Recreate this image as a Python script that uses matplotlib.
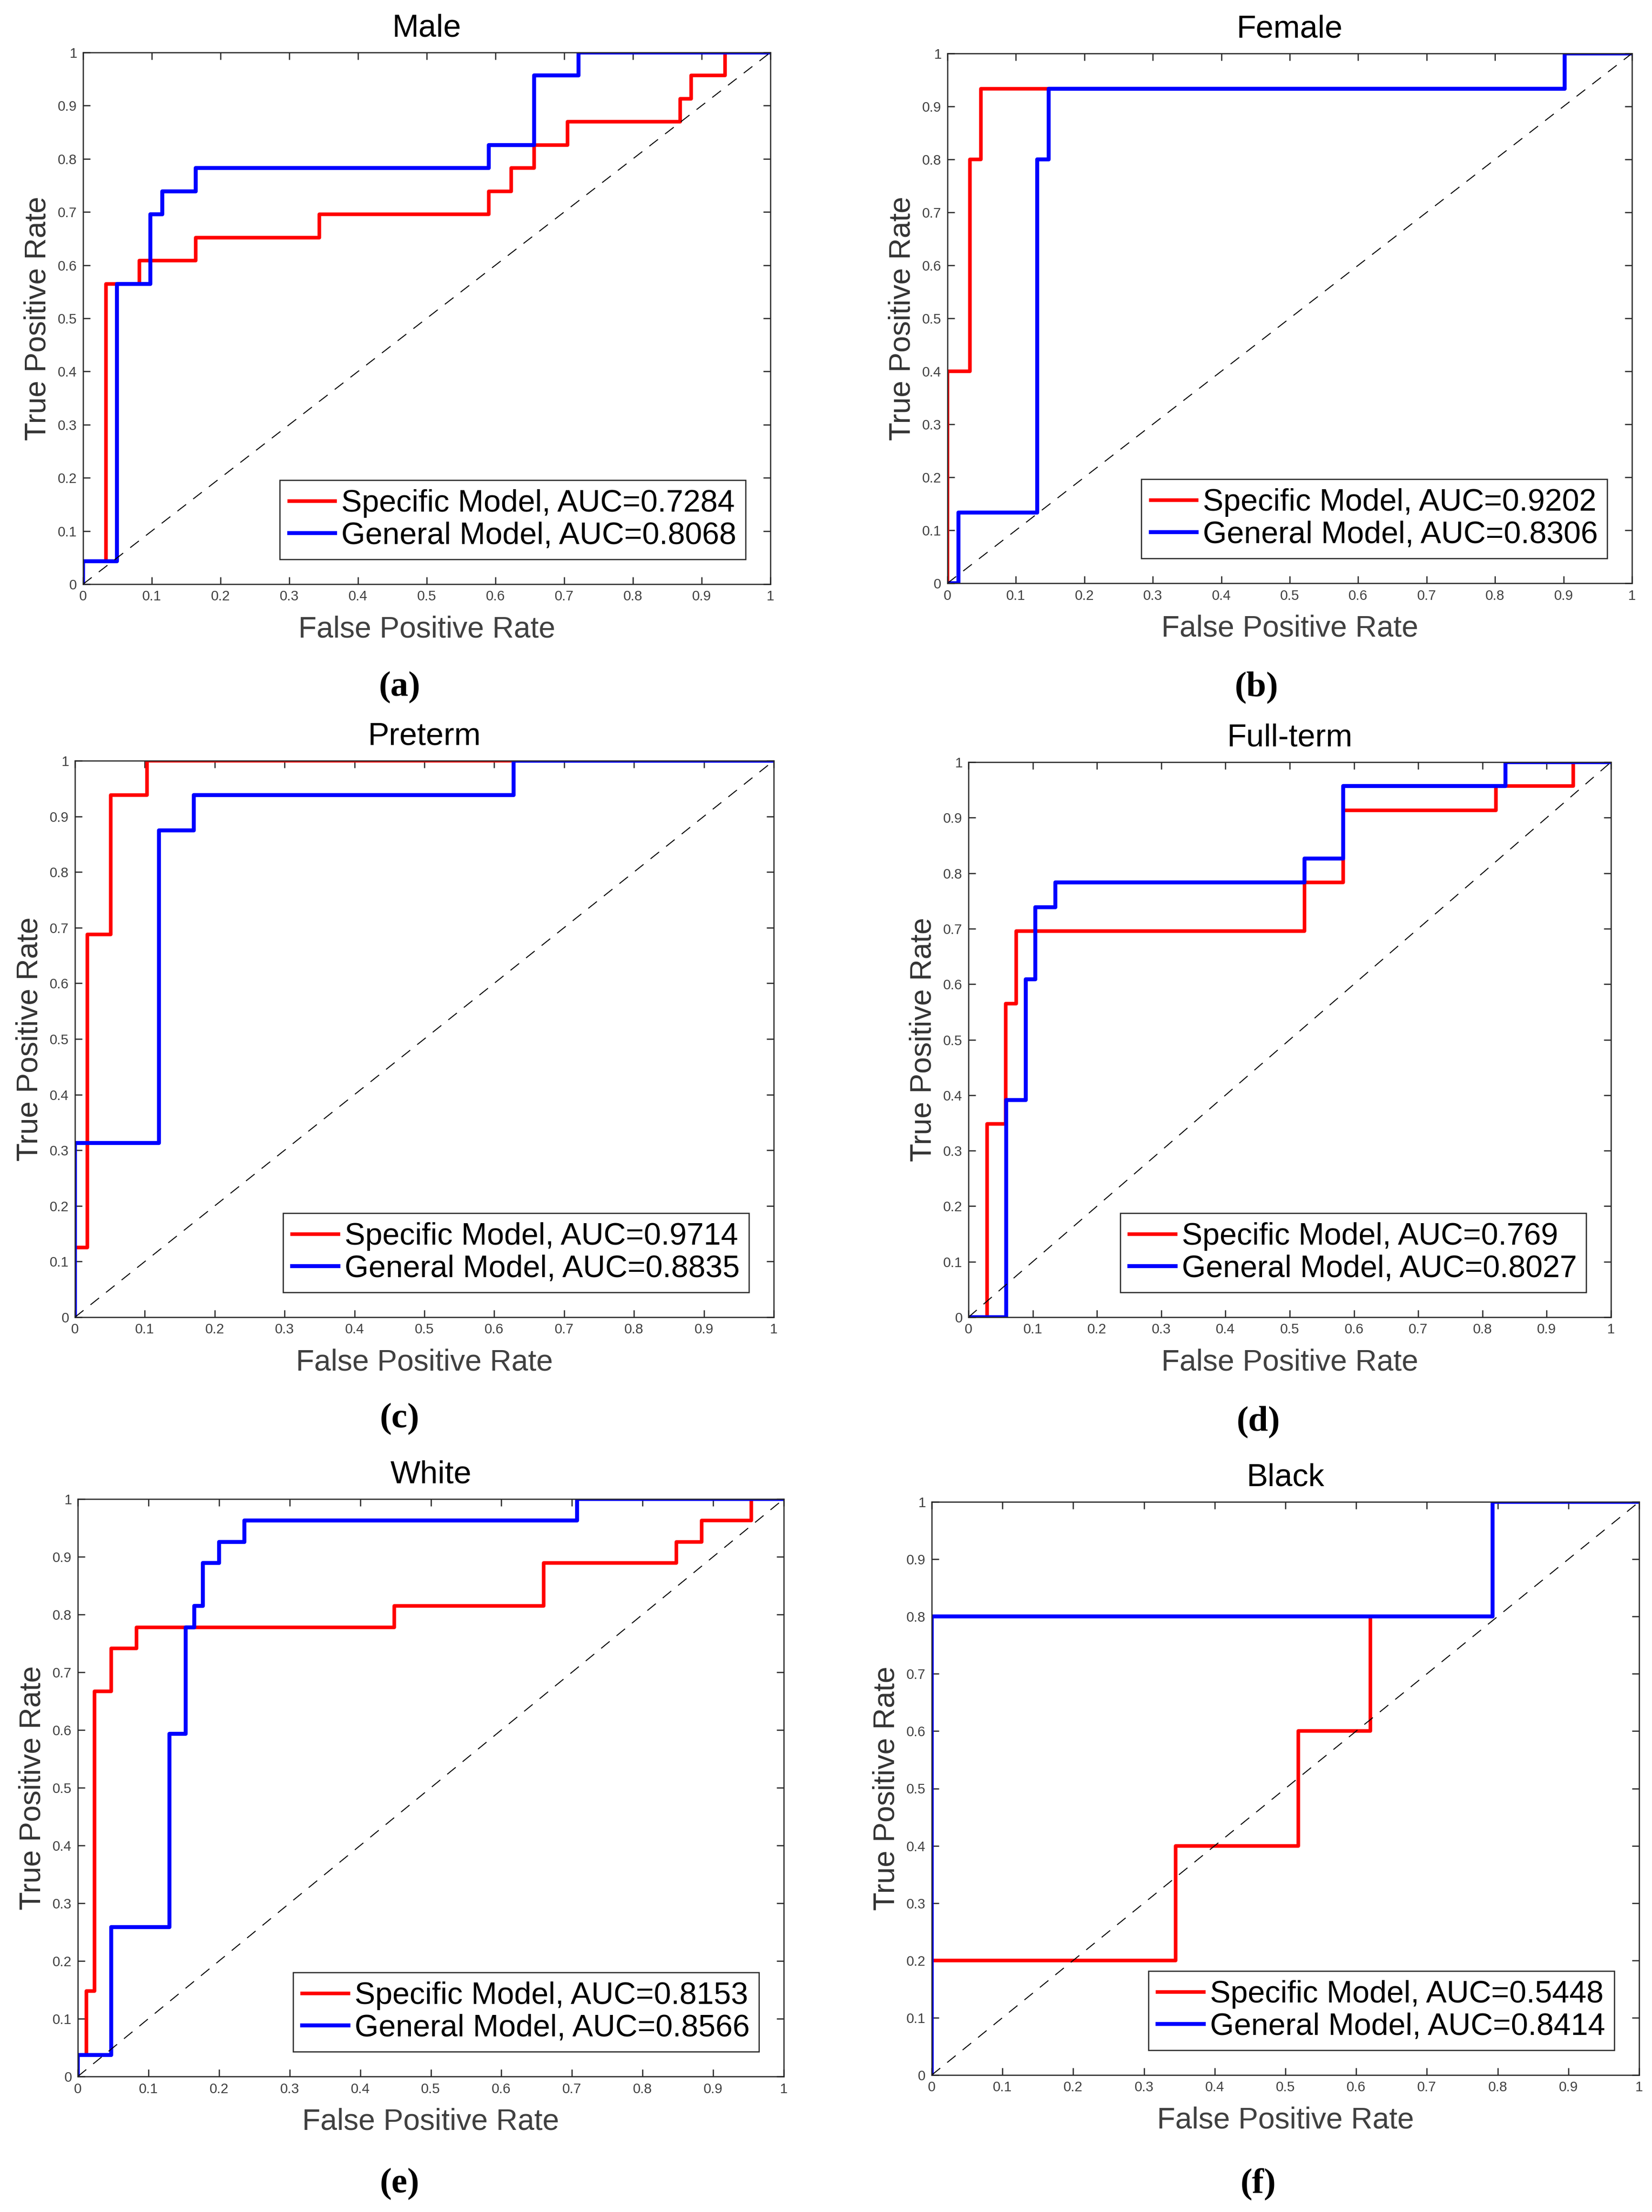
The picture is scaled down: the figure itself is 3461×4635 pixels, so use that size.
import numpy as np
import matplotlib
matplotlib.use("Agg")
from matplotlib import pyplot as plt

plt.rcParams['font.family'] = ['Liberation Sans', 'DejaVu Sans']

# ROC curves: fpr where tpr jumps, tpr after the jump (steps-post)
male_spec_fpr = [0, 0, 0.033, 0.082, 0.164, 0.344, 0.590, 0.623, 0.656, 0.705, 0.869, 0.885, 0.934, 1]
male_spec_tpr = [0, 0.043, 0.565, 0.609, 0.652, 0.696, 0.739, 0.783, 0.826, 0.870, 0.913, 0.957, 1, 1]
male_gen_fpr = [0, 0, 0.049, 0.098, 0.115, 0.164, 0.590, 0.656, 0.721, 1]
male_gen_tpr = [0, 0.043, 0.565, 0.696, 0.739, 0.783, 0.826, 0.957, 1, 1]

female_spec_fpr = [0, 0, 0.033, 0.049, 0.902, 1]
female_spec_tpr = [0, 0.4, 0.8, 0.933, 1, 1]
female_gen_fpr = [0, 0.016, 0.131, 0.148, 0.902, 1]
female_gen_tpr = [0, 0.133, 0.8, 0.933, 1, 1]

preterm_spec_fpr = [0, 0, 0.018, 0.051, 0.103, 1]
preterm_spec_tpr = [0, 0.125, 0.688, 0.938, 1, 1]
preterm_gen_fpr = [0, 0, 0.120, 0.170, 0.628, 1]
preterm_gen_tpr = [0, 0.313, 0.875, 0.938, 1, 1]

fullterm_spec_fpr = [0, 0.029, 0.058, 0.074, 0.523, 0.583, 0.821, 0.941, 1]
fullterm_spec_tpr = [0, 0.348, 0.565, 0.696, 0.783, 0.913, 0.957, 1, 1]
fullterm_gen_fpr = [0, 0.059, 0.089, 0.104, 0.135, 0.523, 0.583, 0.836, 1]
fullterm_gen_tpr = [0, 0.391, 0.609, 0.739, 0.783, 0.826, 0.957, 1, 1]

white_spec_fpr = [0, 0, 0.0125, 0.024, 0.047, 0.083, 0.448, 0.660, 0.848, 0.884, 0.954, 1]
white_spec_tpr = [0, 0.037, 0.148, 0.667, 0.741, 0.778, 0.815, 0.889, 0.926, 0.963, 1, 1]
white_gen_fpr = [0, 0, 0.047, 0.130, 0.153, 0.165, 0.177, 0.200, 0.236, 0.707, 1]
white_gen_tpr = [0, 0.037, 0.259, 0.593, 0.778, 0.815, 0.889, 0.926, 0.963, 1, 1]

black_spec_fpr = [0, 0, 0.345, 0.518, 0.620, 0.793, 1]
black_spec_tpr = [0, 0.2, 0.4, 0.6, 0.8, 1, 1]
black_gen_fpr = [0, 0, 0.793, 1]
black_gen_tpr = [0, 0.8, 1, 1]

titles = ["Male", "Female", "Preterm", "Full-term", "White", "Black"]
letters = ["a", "b", "c", "d", "e", "f"]
auc_spec = ["0.7284", "0.9202", "0.9714", "0.769", "0.8153", "0.5448"]
auc_gen = ["0.8068", "0.8306", "0.8835", "0.8027", "0.8566", "0.8414"]

curves = [
    (male_spec_fpr, male_spec_tpr, male_gen_fpr, male_gen_tpr),
    (female_spec_fpr, female_spec_tpr, female_gen_fpr, female_gen_tpr),
    (preterm_spec_fpr, preterm_spec_tpr, preterm_gen_fpr, preterm_gen_tpr),
    (fullterm_spec_fpr, fullterm_spec_tpr, fullterm_gen_fpr, fullterm_gen_tpr),
    (white_spec_fpr, white_spec_tpr, white_gen_fpr, white_gen_tpr),
    (black_spec_fpr, black_spec_tpr, black_gen_fpr, black_gen_tpr),
]

W, H, dpi = 3461, 4635, 300
# axes boxes in pixels: left, top, right, bottom
boxes = [(174, 110, 1614, 1224), (1985, 112, 3419, 1222),
         (157, 1594, 1621, 2760), (2029, 1597, 3375, 2760),
         (163, 3141, 1642, 4351), (1952, 3147, 3434, 4348)]
letter_pos = [(837, 1440), (2633, 1440), (837, 2973), (2636, 2979), (837, 4576), (2636, 4576)]

fig = plt.figure(figsize=(W / dpi, H / dpi), dpi=dpi)
ticks = np.arange(0, 1.01, 0.1)
ticklabels = ["%g" % round(t, 1) for t in ticks]

for i in range(6):
    l, t, r, b = boxes[i]
    ax = fig.add_axes([l / W, 1 - b / H, (r - l) / W, (b - t) / H])
    sf, st, gf, gt = curves[i]
    ax.plot(sf, st, color="red", lw=1.8, drawstyle="steps-post",
            label="Specific Model, AUC=" + auc_spec[i])
    ax.plot(gf, gt, color="blue", lw=2.0, drawstyle="steps-post",
            label="General Model, AUC=" + auc_gen[i])
    ax.plot([0, 1], [0, 1], color="black", lw=0.5, linestyle=(0, (11, 9)))
    ax.set_xlim(0, 1)
    ax.set_ylim(0, 1)
    ax.set_xticks(ticks)
    ax.set_yticks(ticks)
    ax.set_xticklabels(ticklabels)
    ax.set_yticklabels(ticklabels)
    ax.tick_params(direction="in", top=True, right=True, length=3.6, width=0.6,
                   labelsize=7, labelcolor="#404040", color="#262626", pad=3)
    for s in ax.spines.values():
        s.set_linewidth(0.6)
        s.set_color("#262626")
    ax.set_title(titles[i], fontsize=16, color="black", pad=8)
    ax.set_xlabel("False Positive Rate", fontsize=15, color="#404040", labelpad=6)
    ax.set_ylabel("True Positive Rate", fontsize=15, color="#333333", labelpad=3)
    leg = ax.legend(loc="lower right", fontsize=15.5, fancybox=False, framealpha=1,
                    edgecolor="#262626", handlelength=1.5, handletextpad=0.2,
                    borderpad=0.3, labelspacing=0.12, borderaxespad=0.8)
    leg.get_frame().set_linewidth(0.6)
    x, y = letter_pos[i]
    fig.text(x / W, 1 - y / H, "(%s)" % letters[i], ha="center", va="center",
             fontsize=18, fontweight="bold", family=["Liberation Serif", "DejaVu Serif"])

fig.savefig("out.png", dpi=dpi, facecolor="white")
